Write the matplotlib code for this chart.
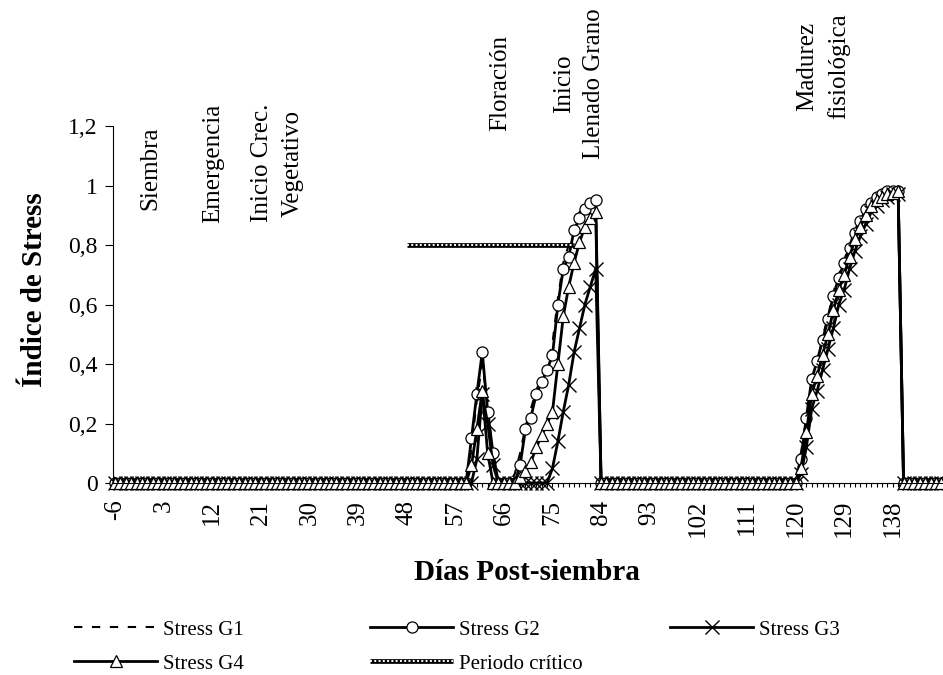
import numpy as np
import matplotlib
matplotlib.use("Agg")
import matplotlib.pyplot as plt
from matplotlib.lines import Line2D
from matplotlib.legend_handler import HandlerTuple

plt.rcParams['font.family'] = ['Liberation Serif', 'DejaVu Serif']

# ---- data ------------------------------------------------------------
days = np.arange(-6, 148)

# Stress G1 (non-zero stretches, zero elsewhere)
g1_flor_start, g1_flor = 60, [0.12, 0.28, 0.40, 0.27, 0.08]
g1_fill_start, g1_fill = 68, [0.03, 0.10, 0.19, 0.25, 0.31, 0.36, 0.40, 0.47,
                              0.62, 0.74, 0.80, 0.87, 0.91, 0.93, 0.95, 0.96]
g1_mat_start, g1_mat = 121, [0.10, 0.22, 0.33, 0.40, 0.49, 0.56, 0.64, 0.70,
                             0.75, 0.80, 0.85, 0.89, 0.93, 0.95, 0.96, 0.97,
                             0.98, 0.98, 0.98]

# Stress G2
g2_flor_start, g2_flor = 60, [0.15, 0.30, 0.44, 0.24, 0.10]
g2_fill_start, g2_fill = 69, [0.06, 0.18, 0.22, 0.30, 0.34, 0.38, 0.43, 0.60,
                              0.72, 0.76, 0.85, 0.89, 0.92, 0.94, 0.95]
g2_mat_start, g2_mat = 121, [0.08, 0.22, 0.35, 0.41, 0.48, 0.55, 0.63, 0.69,
                             0.74, 0.79, 0.84, 0.88, 0.92, 0.94, 0.96, 0.97,
                             0.98, 0.98, 0.98]

# Stress G3
g3_flor_start, g3_flor = 61, [0.08, 0.30, 0.20, 0.06]
g3_fill_start, g3_fill = 75, [0.05, 0.14, 0.24, 0.33, 0.44, 0.52, 0.60, 0.66,
                              0.72]
g3_mat_start, g3_mat = 121, [0.03, 0.12, 0.25, 0.31, 0.38, 0.45, 0.52, 0.60,
                             0.65, 0.72, 0.78, 0.83, 0.87, 0.91, 0.93, 0.95,
                             0.96, 0.97, 0.97]

# Stress G4
g4_flor_start, g4_flor = 60, [0.06, 0.18, 0.31, 0.10]
g4_fill_start, g4_fill = 69, [0.02, 0.04, 0.07, 0.12, 0.16, 0.20, 0.24, 0.40,
                              0.56, 0.66, 0.74, 0.81, 0.86, 0.89, 0.91]
g4_mat_start, g4_mat = 121, [0.05, 0.17, 0.30, 0.36, 0.43, 0.50, 0.58, 0.65,
                             0.70, 0.76, 0.82, 0.86, 0.90, 0.93, 0.95, 0.96,
                             0.97, 0.975, 0.98]

# Periodo crítico
crit_days = [48, 79]
crit_values = [0.8, 0.8]

x_tick_labels = ['-6', '3', '12', '21', '30', '39', '48', '57', '66', '75',
                 '84', '93', '102', '111', '120', '129', '138']
y_ticks = [0, 0.2, 0.4, 0.6, 0.8, 1.0, 1.2]
y_tick_labels = ['0', '0,2', '0,4', '0,6', '0,8', '1', '1,2']

stages = [
    ('Siembra', 0.5, 1.058),
    ('Emergencia', 12.1, 1.075),
    ('Inicio Crec.\nVegetativo', 24.0, 1.075),
    ('Floración', 65.3, 1.343),
    ('Inicio\nLlenado Grano', 79.9, 1.343),
    ('Madurez\nfisiológica', 125.2, 1.40),
]


def build(segments):
    vals = np.zeros(len(days))
    for start, seg in segments:
        i = start - days[0]
        vals[i:i + len(seg)] = seg
    return vals


g1 = build([(g1_flor_start, g1_flor), (g1_fill_start, g1_fill), (g1_mat_start, g1_mat)])
g2 = build([(g2_flor_start, g2_flor), (g2_fill_start, g2_fill), (g2_mat_start, g2_mat)])
g3 = build([(g3_flor_start, g3_flor), (g3_fill_start, g3_fill), (g3_mat_start, g3_mat)])
g4 = build([(g4_flor_start, g4_flor), (g4_fill_start, g4_fill), (g4_mat_start, g4_mat)])

# ---- figure ----------------------------------------------------------
fig = plt.figure(figsize=(9.43, 6.75), dpi=100)
ax = fig.add_axes([0.1198, 0.2844, 0.8802, 0.5289])

dash_g1 = (0, (4.0, 4.6))

l1, = ax.plot(days, g1, color='black', lw=1.5, ls=dash_g1, clip_on=False)
l2, = ax.plot(days, g2, color='black', lw=2, marker='o', ms=8, mfc='white',
              mec='black', mew=0.9, clip_on=False)
l3, = ax.plot(days, g3, color='black', lw=2, marker='x', ms=10.5, mec='black',
              mew=1.0, clip_on=False)
l4, = ax.plot(days, g4, color='black', lw=2, marker='^', ms=8.5, mfc='white',
              mec='black', mew=0.9, clip_on=False)

c_base, = ax.plot(crit_days, crit_values, color='black', lw=3.4,
                  solid_capstyle='butt', zorder=5)
c_top, = ax.plot(crit_days, crit_values, color='white', lw=1.4,
                 ls=(0, (1.0, 1.2)), zorder=6)

ax.set_xlim(-6.37, 147.3)
ax.set_ylim(0, 1.2)

ax.spines['top'].set_visible(False)
ax.spines['right'].set_visible(False)
ax.spines['left'].set_color('black')
ax.spines['bottom'].set_color('black')

ax.set_xticks(np.arange(-6, 139, 9))
ax.set_xticklabels(x_tick_labels, rotation=90, fontsize=18)
ax.set_xticks(days, minor=True)
ax.tick_params(axis='x', which='major', direction='out', length=3, pad=9,
               width=0.8)
ax.tick_params(axis='x', which='minor', direction='out', length=3, width=0.8)

ax.set_yticks(y_ticks)
ax.set_yticklabels(y_tick_labels, fontsize=17)
ax.tick_params(axis='y', direction='out', length=6, pad=5, width=0.8)

for label, xd, yd in stages:
    ax.text(xd, yd, label, rotation=90, ha='center', va='center',
            multialignment='center', fontsize=18, linespacing=1.5,
            clip_on=False)

fig.text(35 / 943, 1 - 290 / 675, 'Índice de Stress', rotation=90,
         ha='center', va='center', fontsize=21, fontweight='bold')
fig.text(527 / 943, 1 - 573 / 675, 'Días Post-siembra', ha='center',
         va='center', fontsize=21, fontweight='bold')

# ---- legend (three columns placed individually) ----------------------
leg_kw = dict(frameon=False, fontsize=15, handlelength=4.0, handletextpad=0.25,
              borderpad=0, borderaxespad=0, labelspacing=0.7, numpoints=1,
              loc='upper left')

h1 = Line2D([], [], color='black', lw=1.5, ls=dash_g1)
h2 = Line2D([], [], color='black', lw=2, marker='o', ms=8, mfc='white',
            mec='black', mew=0.9)
h3 = Line2D([], [], color='black', lw=2, marker='x', ms=10.5, mec='black',
            mew=1.0)
h4 = Line2D([], [], color='black', lw=2, marker='^', ms=8.5, mfc='white',
            mec='black', mew=0.9)
hc1 = Line2D([], [], color='black', lw=3.4, solid_capstyle='butt')
hc2 = Line2D([], [], color='white', lw=1.4, ls=(0, (1.0, 1.2)))

top = 1 - 620 / 675
leg1 = fig.legend([h1, h4], ['Stress G1', 'Stress G4'],
                  bbox_to_anchor=(74 / 943, top), **leg_kw)
leg2 = fig.legend([h2, (hc1, hc2)], ['Stress G2', 'Periodo crítico'],
                  handler_map={tuple: HandlerTuple(ndivide=1)},
                  bbox_to_anchor=(370 / 943, top), **leg_kw)
leg3 = fig.legend([h3], ['Stress G3'],
                  bbox_to_anchor=(670 / 943, top), **leg_kw)

fig.savefig('out.png', dpi=100)
